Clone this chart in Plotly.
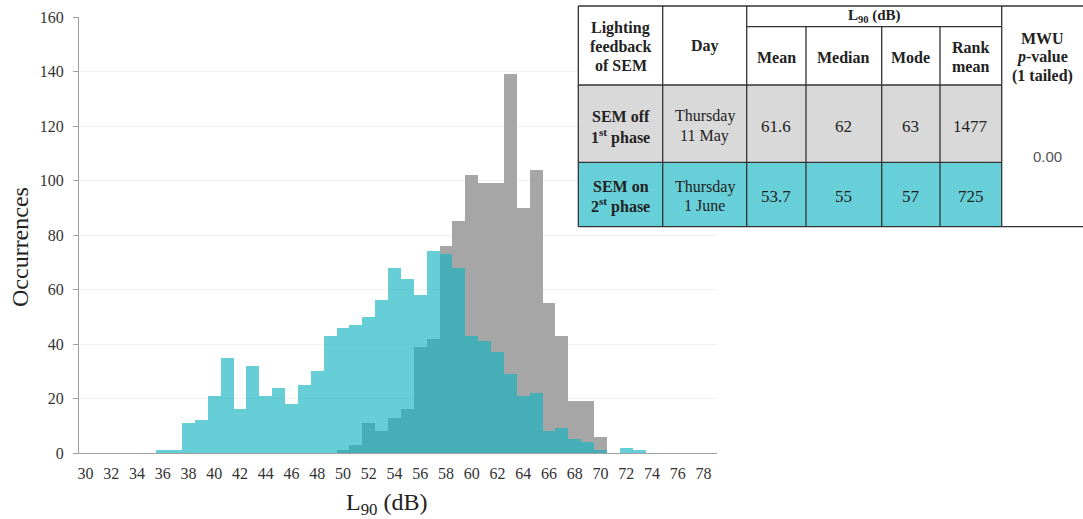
import plotly.graph_objects as go

# ---- data ----
bins = list(range(30, 79))
sem_off = [0]*20 + [1, 3, 11, 8, 13, 16, 39, 42, 76, 85, 102, 99, 99, 139, 90, 104,
                    55, 43, 19, 19, 6, 0, 0, 0, 0, 0, 0, 0, 0]
sem_on = [0, 0, 0, 0, 0, 0, 1, 1, 11, 12, 21, 35, 16, 32, 21, 24, 18, 25, 30, 43, 46,
          47, 50, 56, 68, 64, 58, 74, 73, 68, 43, 41, 37, 29, 21, 22, 8, 9, 5, 4, 1, 0,
          2, 1, 0, 0, 0, 0, 0]
x_ticks = list(range(30, 79, 2))
y_ticks = list(range(0, 161, 20))

tbl_header = [["Lighting", "feedback", "of SEM"], ["Day"], ["Mean"], ["Median"], ["Mode"],
              ["Rank", "mean"], ["MWU", "<i>p</i>-value", "(1 tailed)"]]
tbl_group = "L<sub>90</sub> (dB)"
row_off = [["SEM off", "1<sup>st</sup> phase"], ["Thursday", "11 May"], ["61.6"], ["62"], ["63"], ["1477"]]
row_on = [["SEM on", "2<sup>st</sup> phase"], ["Thursday", "1 June"], ["53.7"], ["55"], ["57"], ["725"]]
p_value = "0.00"

# ---- figure ----
W, H = 1083, 519
L, R, T, B = 79, 717, 17, 453


def px(x):
    return (x - L) / (R - L)


def py(y):
    return (B - y) / (B - T)


fig = go.Figure()
fig.add_trace(go.Bar(x=bins, y=sem_off, width=1, marker=dict(color="#a6a6a6", line_width=0),
                     name="SEM off", showlegend=False))
fig.add_trace(go.Bar(x=bins, y=sem_on, width=1, marker=dict(color="rgb(14,179,192)", line_width=0),
                     opacity=0.63, name="SEM on", showlegend=False))

serif = "Liberation Serif, Times New Roman, serif"

fig.update_layout(
    width=W, height=H,
    margin=dict(l=L, r=W - R, t=T, b=H - B, pad=0),
    paper_bgcolor="white", plot_bgcolor="white",
    barmode="overlay", bargap=0,
    font=dict(family=serif, color="#222"),
    xaxis=dict(range=[29.5, 79.05], tickvals=x_ticks, showgrid=False, zeroline=False,
               showline=True, linecolor="#a0a0a0", linewidth=1, ticks="outside", ticklen=6,
               tickcolor="rgba(0,0,0,0)", automargin=False,
               tickfont=dict(size=16, family=serif, color="#333")),
    yaxis=dict(range=[0, 160], tickvals=y_ticks, showgrid=True, gridcolor="#efefef",
               zeroline=False, showline=True, linecolor="#a0a0a0", linewidth=1,
               ticks="outside", ticklen=5, tickcolor="#a0a0a0", automargin=False,
               ticklabelstandoff=6,
               tickfont=dict(size=16, family=serif, color="#333")),
)

# ---- table drawn with shapes ----
cols = [578.3, 662.7, 746.7, 806, 881.7, 940, 1001.7, 1083]
rows = [6, 26.7, 85, 162.3, 226.7]
lc = "#333"
shapes = []


def rect(x0, y0, x1, y1, fill):
    shapes.append(dict(type="rect", xref="paper", yref="paper", x0=px(x0), x1=px(x1),
                       y0=py(y1), y1=py(y0), fillcolor=fill, line_width=0, layer="above"))


def line(x0, y0, x1, y1):
    shapes.append(dict(type="line", xref="paper", yref="paper", x0=px(x0), x1=px(x1),
                       y0=py(y0), y1=py(y1), line=dict(color=lc, width=1.3), layer="above"))


rect(cols[0], rows[0], cols[7], rows[4], "white")
rect(cols[0], rows[2], cols[6], rows[3], "#d9d9d9")
rect(cols[0], rows[3], cols[6], rows[4], "#67cfd7")
line(cols[0], rows[0], cols[7], rows[0])
line(cols[0], rows[4], cols[7], rows[4])
line(cols[2], rows[1], cols[6], rows[1])
line(cols[0], rows[2], cols[6], rows[2])
line(cols[0], rows[3], cols[6], rows[3])
for c in (cols[0], cols[1], cols[2], cols[6]):
    line(c, rows[0], c, rows[4])
for c in (cols[3], cols[4], cols[5]):
    line(c, rows[1], c, rows[4])
fig.update_layout(shapes=shapes)

anns = []


def text(x, y, s, bold=False, size=16, family=serif, color="#222", angle=0):
    anns.append(dict(xref="paper", yref="paper", x=px(x), y=py(y), text=("<b>%s</b>" % s) if bold else s,
                     showarrow=False, xanchor="center", yanchor="middle", align="center",
                     textangle=angle, font=dict(size=size, family=family, color=color)))


def lines(x, yc, parts, spacing, **kw):
    n = len(parts)
    for k, s in enumerate(parts):
        text(x, yc + (k - (n - 1) / 2) * spacing, s, **kw)


centers = [(cols[i] + cols[i + 1]) / 2 for i in range(7)]
lines(centers[0], 46.7, tbl_header[0], 18.3, bold=True)
lines(centers[1], 46, tbl_header[1], 18.3, bold=True)
text((cols[2] + cols[6]) / 2, 16, tbl_group, bold=True, size=15)
for i in range(2, 7):
    lines(centers[i], 57.3, tbl_header[i], 18.6, bold=True)
for i, parts in enumerate(row_off):
    lines(centers[i], 126, parts, 20, bold=(i == 0), size=16 if i < 2 else 17)
for i, parts in enumerate(row_on):
    lines(centers[i], 196, parts, 19, bold=(i == 0), size=16 if i < 2 else 17)
text(1047, 157, p_value, size=15, family="Liberation Sans, Arial, sans-serif", color="#555")

# axis titles
text(20, 247, "Occurrences", size=24, angle=-90)
text(386, 504, "L<sub>90</sub> (dB)", size=24)
fig.update_layout(annotations=anns)

fig.write_html("out.html", config={"displayModeBar": False},
               post_script="document.body.style.margin='0';document.body.style.overflow='hidden';")
